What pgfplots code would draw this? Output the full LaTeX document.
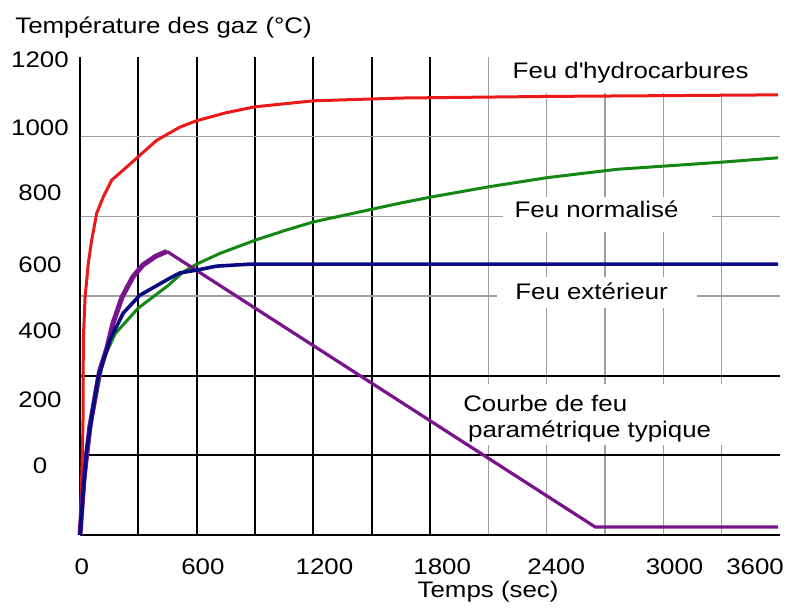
\documentclass[border=0pt]{standalone}
\usepackage{fontspec}
\setmainfont{Liberation Sans}[FakeStretch=1.15]
\usepackage{pgfplots}
\pgfplotsset{compat=1.18}
\definecolor{cred}{RGB}{235,25,25}
\definecolor{cgreen}{RGB}{20,135,20}
\definecolor{cblue}{RGB}{10,10,130}
\definecolor{cpurple}{RGB}{120,20,140}
\begin{document}
\fontsize{11.25pt}{13.5pt}\selectfont
\begin{tikzpicture}
\begin{axis}[
 scale only axis, width=350pt, height=239pt,
 xmin=0,xmax=3600,ymin=0,ymax=1200,
 axis x line=bottom, axis y line=left,
 axis line style={-, line width=1pt, black},
 xtick={0,300,...,1800}, xticklabels={}, minor xtick={2100,2400,...,3300},
 ytick={200,400}, yticklabels={}, minor ytick={600,800,1000},
 xmajorgrids, ymajorgrids, xminorgrids, yminorgrids,
 major grid style={black, line width=1pt},
 minor grid style={gray!75, line width=0.55pt},
 major tick length=0pt, minor tick length=0pt,
 extra x ticks={10,632,1257,1863,2449,3058,3472},
 extra x tick labels={0,600,1200,1800,2400,3000,3600},
 extra y ticks={173,339,512,679,858,1022,1194},
 extra y tick labels={0,200,400,600,800,1000,1200},
 extra tick style={grid=none, major tick length=0pt},
 xticklabel style={anchor=center, yshift=-15.75pt},
 yticklabel style={anchor=center, xshift=-20pt},
 /pgf/number format/assume math mode=true,
 clip=false,
]
\fill[white] (axis cs:2159,1109) rectangle (axis cs:3600,1200);
\fill[white] (axis cs:2174,760) rectangle (axis cs:3248,848);
\fill[white] (axis cs:2143,570) rectangle (axis cs:3171,648);
\fill[white] (axis cs:1928,226) rectangle (axis cs:3341,379);

\addplot[cgreen, line width=1.5pt] coordinates {(0,0)(30,170)(60,290)(120,440)(180,505)(300,570)(450,625)(530,660)(600,680)(720,707)(900,740)(1064,766)(1200,786)(1645,833)(1800,848)(2100,874)(2400,897)(2760,918)(3000,926)(3300,936)(3590,947)};
\addplot[cred, line width=1.5pt] coordinates {(0,0)(12,200)(16,300)(17,490)(26,597)(43,683)(60,740)(86,808)(119,848)(163,891)(222,916)(298,949)(395,991)(514,1024)(600,1040)(750,1060)(900,1075)(1200,1090)(1650,1097)(2400,1101)(3000,1103)(3590,1105)};
\addplot[cpurple, line width=1.6pt] coordinates {(447,712)(2650,20)(3590,20)};
\addplot[cpurple, line width=2.5pt, line join=round] coordinates {(0,0)(20,140)(50,270)(100,410)(139,470)(170,532)(216,597)(272,648)(324,678)(390,700)(447,712)};
\addplot[cblue, line width=1.8pt] coordinates {(0,0)(17,113)(34,213)(60,296)(94,397)(154,490)(222,557)(308,602)(463,645)(514,658)(600,665)(703,675)(874,680)(1200,680)(3590,680)};

\node[anchor=base, inner sep=0] at (axis cs:2832,1145) {Feu d\textquotesingle hydrocarbures};
\node[anchor=base, inner sep=0] at (axis cs:2657,796) {Feu normalisé};
\node[anchor=base, inner sep=0] at (axis cs:2631,590) {Feu extérieur};
\node[anchor=base west, inner sep=0] at (axis cs:1969,309) {Courbe de feu};
\node[anchor=base west, inner sep=0] at (axis cs:1994,246) {paramétrique typique};
\node[anchor=base west, inner sep=0] at (rel axis cs:-0.093,1.050) {Température des gaz (°C)};
\node[anchor=base, inner sep=0, yshift=-31pt] at (rel axis cs:0.583,0) {Temps (sec)};
\end{axis}
\pgfresetboundingbox
\path (-40pt,-36pt) rectangle (354pt,267.5pt);
\end{tikzpicture}
\end{document}
